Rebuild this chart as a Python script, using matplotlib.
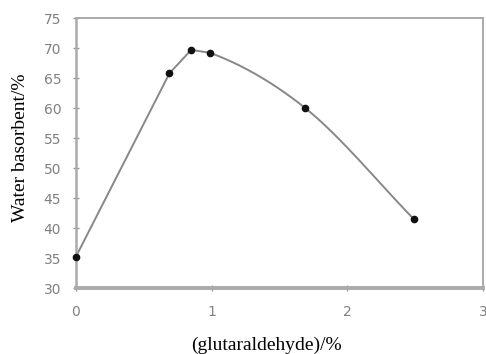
import numpy as np
import matplotlib
matplotlib.use("Agg")
import matplotlib.pyplot as plt

glutaraldehyde = [0.0, 0.69, 0.85, 0.99, 1.69, 2.49]
water_absorbent = [35.2, 65.8, 69.7, 69.2, 60.0, 41.5]
x_ticks = [0, 1, 2, 3]
y_ticks = [30, 35, 40, 45, 50, 55, 60, 65, 70, 75]


def smooth_path(x, y, n_straight=3, n=40):
    """Straight segments first, then Hermite segments with averaged tangents."""
    x = np.asarray(x, float)
    y = np.asarray(y, float)
    h = np.diff(x)
    d = np.diff(y) / h
    m = np.empty_like(y)
    m[0] = d[0]
    m[-1] = d[-1]
    m[1:-1] = 0.5 * (d[:-1] + d[1:])
    xs, ys = [], []
    t = np.linspace(0, 1, n)
    h00 = 2 * t ** 3 - 3 * t ** 2 + 1
    h10 = t ** 3 - 2 * t ** 2 + t
    h01 = -2 * t ** 3 + 3 * t ** 2
    h11 = t ** 3 - t ** 2
    for k in range(len(x) - 1):
        if k < n_straight:
            ma = mb = d[k]
        else:
            ma, mb = m[k], m[k + 1]
        xs.append(x[k] + t * h[k])
        ys.append(h00 * y[k] + h10 * h[k] * ma + h01 * y[k + 1] + h11 * h[k] * mb)
    return np.concatenate(xs), np.concatenate(ys)


fig = plt.figure(figsize=(4.86, 3.54), dpi=100)
ax = fig.add_axes([0.156, 0.186, 0.838, 0.763])

sx, sy = smooth_path(glutaraldehyde, water_absorbent)
ax.plot(sx, sy, color="#888888", lw=1.4, zorder=2)
ax.plot(glutaraldehyde, water_absorbent, "o", color="#111111", ms=4.5, zorder=3, clip_on=False)

ax.set_xlim(0, 3)
ax.set_ylim(30, 75)
ax.set_xticks(x_ticks)
ax.set_yticks(y_ticks)
ax.tick_params(axis="both", colors="#999999", labelcolor="#808080", labelsize=10,
               direction="inout", length=4, width=1)
ax.tick_params(axis="x", pad=10)
ax.tick_params(axis="y", pad=8.5)
for name, sp in ax.spines.items():
    sp.set_color("#aaaaaa")
    sp.set_linewidth(1.4)
ax.spines["bottom"].set_linewidth(2.8)
ax.spines["left"].set_linewidth(1.8)

ylab = ax.set_ylabel("Water basorbent/%", family="Liberation Serif", fontsize=14)
ylab.set_va("center")
ax.yaxis.set_label_coords(-0.137, 0.52)
xlab = ax.set_xlabel("(glutaraldehyde)/%", family="Liberation Serif", fontsize=14)
xlab.set_va("center")
ax.xaxis.set_label_coords(0.467, -0.21)

fig.savefig("out.png", dpi=100, facecolor="white")
